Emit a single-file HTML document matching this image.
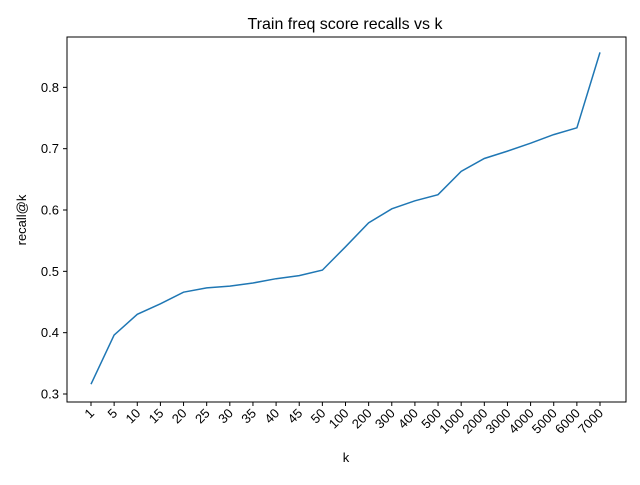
<!DOCTYPE html>
<html><head><meta charset="utf-8"><style>
html,body{margin:0;padding:0;background:#fff;}
svg text{font-family:"Liberation Sans","DejaVu Sans",sans-serif;fill:#000;}
</style></head><body>
<svg id="chart" width="640" height="480" viewBox="0 0 640 480" xmlns="http://www.w3.org/2000/svg">
<rect width="640" height="480" fill="#fff"/>
<text x="345" y="29" font-size="16" text-anchor="middle">Train freq score recalls vs k</text>
<g id="plot"></g>
<rect x="67" y="37" width="559" height="365" fill="none" stroke="#000" stroke-width="1"/>
<text x="346" y="462" font-size="13" text-anchor="middle">k</text>
<text x="26" y="220" font-size="13" text-anchor="middle" transform="rotate(-90 26 220)">recall@k</text>
</svg>
<script>
const categories = ["1","5","10","15","20","25","30","35","40","45","50","100","200","300","400","500","1000","2000","3000","4000","5000","6000","7000"];
const recallValues = [0.316,0.396,0.430,0.447,0.466,0.473,0.476,0.481,0.488,0.493,0.502,0.540,0.579,0.602,0.615,0.625,0.663,0.684,0.696,0.709,0.723,0.734,0.857];
const yTicks = [0.3,0.4,0.5,0.6,0.7,0.8];

const NS = "http://www.w3.org/2000/svg";
const g = document.getElementById("plot");
function xPos(i){ return 91 + i * (600 - 91) / (categories.length - 1); }
function yPos(v){ return 394 - (v - 0.3) * 613.3; }
function mk(tag, attrs){ const e = document.createElementNS(NS, tag); for (const k in attrs) e.setAttribute(k, attrs[k]); g.appendChild(e); return e; }

yTicks.forEach(t => {
  const y = yPos(t);
  const tk = mk("line", {x1:63, x2:67, y1:y, y2:y, stroke:"#000"});
  
  
  const lb = mk("text", {x:59, y:y+4.5, "font-size":13, "text-anchor":"end"});
  lb.textContent = t.toFixed(1);
  
  
});
categories.forEach((c, i) => {
  const x = xPos(i);
  const tk = mk("line", {x1:x, x2:x, y1:402, y2:406, stroke:"#000"});
  
  
  const lb = mk("text", {x:x+4, y:414, "font-size":13, "text-anchor":"end", transform:`rotate(-45 ${x+4} 414)`});
  lb.textContent = c;
  
  
});
const pts = recallValues.map((v, i) => xPos(i).toFixed(1) + "," + yPos(v).toFixed(1)).join(" ");
const line = mk("polyline", {points:pts, fill:"none", stroke:"#1f77b4", "stroke-width":1.5});


</script>
</body></html>
